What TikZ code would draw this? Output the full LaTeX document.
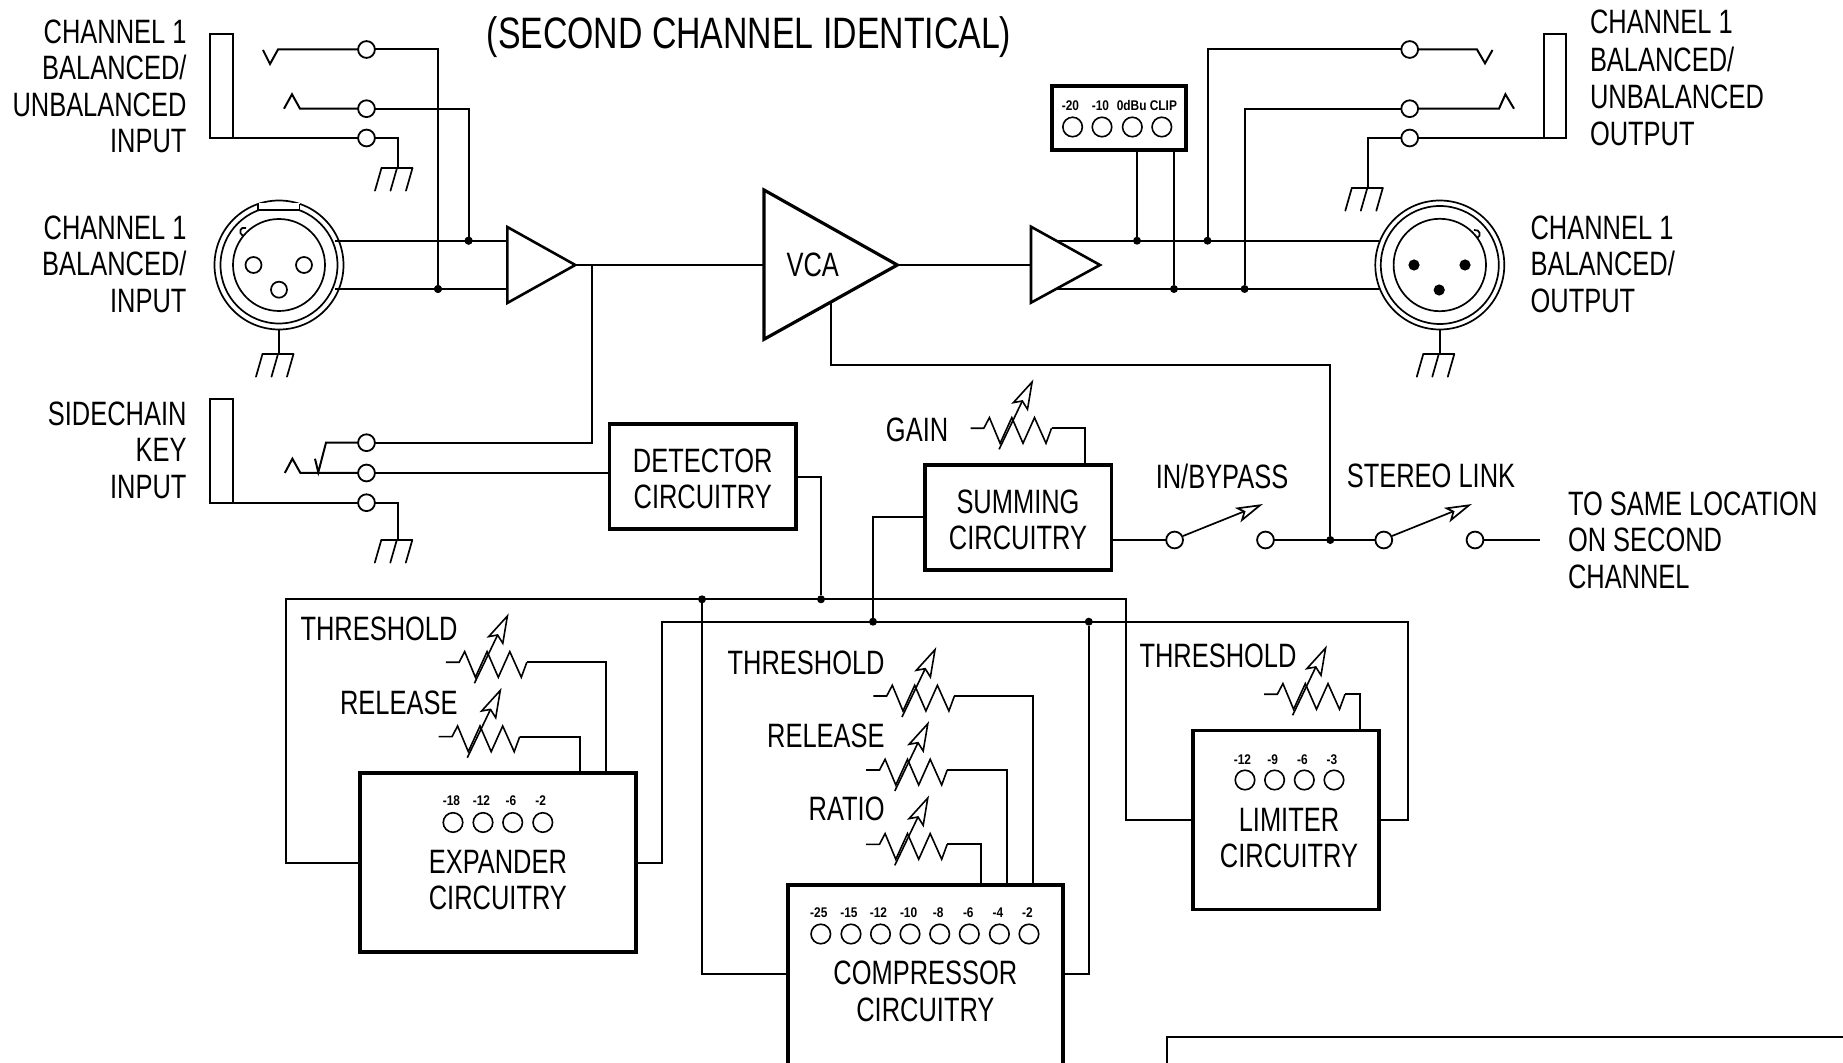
\documentclass[tikz,border=0pt]{standalone}
\usepackage{fontspec}
\setmainfont{Liberation Sans}[FakeStretch=0.753]
\newfontfamily\titlefont{Liberation Sans}[FakeStretch=0.769]
\newfontfamily\ledfont{Liberation Sans}[FakeStretch=0.85]
\tikzset{
  wire/.style={line width=1pt,line join=miter},
  heavy/.style={line width=1.1pt},
  lbl/.style={inner sep=0pt,outer sep=0pt,font=\fontsize{16.9}{18.2}\selectfont},
  lblwide/.style={inner sep=0pt,outer sep=0pt,font=\fontsize{16.9}{18.6}\selectfont},
  ttl/.style={inner sep=0pt,font=\titlefont\fontsize{22}{24}\selectfont},
  ledtxt/.style={inner sep=0pt,font=\ledfont\bfseries\fontsize{7}{8}\selectfont},
  led/.style={circle,draw,line width=0.8pt,minimum size=9.75pt,inner sep=0pt,outer sep=0pt},
  jackc/.style={circle,draw,fill=white,line width=0.9pt,minimum size=8.4pt,inner sep=0pt,outer sep=0pt},
  dot/.style={circle,fill=black,minimum size=4pt,inner sep=0pt,outer sep=0pt},
  cbox/.style={rectangle,draw,line width=1.9pt,inner sep=0pt,outer sep=0pt},
  amp/.style={draw,line width=1.3pt,line join=miter,fill=white},
  gnd/.pic={
    \draw[line width=0.85pt,line cap=round] (-16.5,0) -- (14.5,0);
    \draw[line width=0.85pt,line cap=round] (-16.5,0) -- (-23,22.7) (-1,0) -- (-7.5,22.7) (14.5,0) -- (8,22.7);
  },
  pot/.pic={
    \coordinate (-end) at (81,0);
    \draw[line width=0.8pt,line join=miter] (0,0) -- (13.3,0) -- (18.9,-10.7) -- (29.6,15) -- (41.3,-10.7) -- (52.5,15) -- (64,-10.7) -- (75.5,15) -- (81,0);
    \draw[line width=0.8pt] (28.6,21) -- (51.8,-27.3);
    \draw[line width=0.8pt,line join=miter] (61.6,-46.3) -- (42.9,-25.7) -- (51.8,-27.3) -- (57,-19) -- cycle;
  },
  swarm/.pic={
    \draw[line width=0.85pt] (0,0) -- (61,-24.5);
    \draw[line width=0.85pt,line join=miter] (77,-30.7) -- (54.7,-27.7) -- (61.5,-24.3) -- (59,-16) -- cycle;
  },
}
\begin{document}
\begin{tikzpicture}[x=0.5pt,y=-0.5pt]
\useasboundingbox (0,0) rectangle (1843,1063);
\fill[white] (0,0) rectangle (1843,1063);
\clip (0,0) rectangle (1843,1063);

% ---------- title
\node[ttl] (title) at (749,37) {(SECOND CHANNEL IDENTICAL)};

% ---------- left labels
\node[lbl,anchor=east,align=right] (lblA) at (186.5,86.5) {CHANNEL 1\\BALANCED/\\UNBALANCED\\INPUT};
\node[lbl,anchor=east,align=right] (lblB) at (186.5,264) {CHANNEL 1\\BALANCED/\\INPUT};
\node[lbl,anchor=east,align=right] (lblC) at (186.5,450) {SIDECHAIN\\KEY\\INPUT};
\node[lblwide,anchor=west,align=left] (lblD) at (1590,78) {CHANNEL 1\\BALANCED/\\UNBALANCED\\OUTPUT};
\node[lbl,anchor=west,align=left] (lblE) at (1530.6,264) {CHANNEL 1\\BALANCED/\\OUTPUT};
\node[lbl,anchor=west,align=left] (lblF) at (1568,540) {TO SAME LOCATION\\ON SECOND\\CHANNEL};

% ---------- coordinates
\coordinate (xin1) at (335,240.7);
\coordinate (xin2) at (335,289);
\coordinate (ain1) at (507.3,240.7);
\coordinate (ain2) at (507.3,289);
\coordinate (aout) at (575.3,265);
\coordinate (vcaIn) at (764,265);
\coordinate (vcaOut) at (897.3,265);
\coordinate (bIn) at (1031,265);
\coordinate (bo1) at (1056.5,240.7);
\coordinate (bo2) at (1056.5,289);
\coordinate (xo1) at (1378.5,240.7);
\coordinate (xo2) at (1378.5,289);
\coordinate (vcaCtl) at (831,302.7);

% ---------- input jack
\draw[wire,line join=miter] (233,138) -- (210.4,138) -- (210.4,34.3) -- (233,34.3) -- cycle;
\node[jackc] (jt) at (366.5,49.5) {};
\node[jackc] (jr) at (366.5,108.7) {};
\node[jackc] (js) at (366.5,138) {};
\node[dot] (dTin) at (438,289) {};
\node[dot] (dRin) at (468.6,240.7) {};
\coordinate (vt) at (278,49.5);
\coordinate (vr) at (300,108.7);
\coordinate (vs) at (233,138);
\coordinate (gA) at (398,168);
\draw[wire] (263,50) -- (270,64) -- (vt) -- (jt);
\draw[wire] (284,108.7) -- (292,94.3) -- (vr) -- (jr);
\draw[wire] (vs) -- (js);
\draw[wire] (jt) -| (dTin);
\draw[wire] (jr) -| (dRin);
\draw[wire] (js) -| (gA);
\pic at (gA) {gnd};

% ---------- input XLR
\node[circle,draw,line width=0.85pt,minimum size=64.5pt,inner sep=0pt,outer sep=0pt] (xlrA) at (279,265) {};
\node[circle,draw,line width=0.85pt,minimum size=58.5pt,inner sep=0pt,outer sep=0pt] (xlrAb) at (279,265) {};
\node[circle,draw,line width=0.85pt,minimum size=46pt,inner sep=0pt,outer sep=0pt] (xlrAc) at (279,265) {};
\fill[white] (258.5,203.5) rectangle (299.5,210);
\draw[line width=0.85pt] (258,204) -- (258,210) -- (299.5,210) -- (299.5,204);
\draw[line width=0.85pt] (246,228) .. controls (240,226) and (238,233) .. (243,236);
\node[circle,draw,line width=0.85pt,minimum size=8pt,inner sep=0pt] (pa1) at (253.5,265) {};
\node[circle,draw,line width=0.85pt,minimum size=8pt,inner sep=0pt] (pa2) at (304,265) {};
\node[circle,draw,line width=0.85pt,minimum size=8pt,inner sep=0pt] (pa3) at (279,289.7) {};
\coordinate (gB) at (279,354);
\draw[wire] (xlrA.south) -- (gB);
\pic at (gB) {gnd};

% ---------- main signal path
\draw[heavy] (xin1) -- (ain1);
\draw[heavy] (xin2) -- (ain2);
\node[dot] (dTin2) at (dTin) {};
\node[dot] (dRin2) at (dRin) {};
\draw[amp] (507.3,227) -- (507.3,303) -- (aout) -- cycle;
\draw[heavy] (aout) -- (vcaIn);
\draw[heavy] (vcaOut) -- (bIn);
\draw[amp,line width=1.6pt] (764,190) -- (764,339.3) -- (vcaOut) -- cycle;
\node[lbl] (vca) at (812.7,265) {VCA};
\draw[amp] (1031,226.7) -- (1031,302.7) -- (1100,265) -- cycle;
\draw[heavy] (bo1) -- (xo1);
\draw[heavy] (bo2) -- (xo2);

% ---------- meter
\node[cbox,minimum width=67.2pt,minimum height=32pt] (meter) at (1118.8,118) {};
\foreach \n/\x/\lx/\t in {1/1072.6/1070.4/-20,2/1102/1100.5/-10,3/1132.3/1131.7/0dBu,4/1161.8/1163.4/CLIP}{
  \node[ledtxt] (mt\n) at (\lx,105.3) {\t};
  \node[led] (ml\n) at (\x,127) {};
}
\node[dot] (dM1) at (1137,240.7) {};
\node[dot] (dM2) at (1174,289) {};
\node[dot] (dO1) at (1207.5,240.7) {};
\node[dot] (dO2) at (1244.6,289) {};
\draw[wire] (dM1) -- (dM1 |- meter.south);
\draw[wire] (dM2) -- (dM2 |- meter.south);

% ---------- output jack
\draw[wire] (1566,138) -- (1544,138) -- (1544,34.3) -- (1566,34.3) -- cycle;
\node[jackc] (ot) at (1409.7,49.5) {};
\node[jackc] (or) at (1409.7,108.7) {};
\node[jackc] (os) at (1409.7,138) {};
\coordinate (ovt) at (1477,49.5);
\coordinate (ovr) at (1499,108.7);
\coordinate (ovs) at (1566,138);
\coordinate (gC) at (1368.3,188);
\draw[wire] (dO1) |- (ot);
\draw[wire] (dO2) |- (or);
\draw[wire] (ot) -- (ovt) -- (1485,63.3) -- (1492.5,50);
\draw[wire] (or) -- (ovr) -- (1505.4,94.3) -- (1514,108.7);
\draw[wire] (os) -- (ovs);
\draw[wire] (os) -| (gC);
\pic at (gC) {gnd};

% ---------- output XLR
\node[circle,draw,line width=0.85pt,minimum size=64.5pt,inner sep=0pt,outer sep=0pt] (xlrB) at (1439.8,265) {};
\node[circle,draw,line width=0.85pt,minimum size=59pt,inner sep=0pt,outer sep=0pt] (xlrBb) at (1439.8,265) {};
\node[circle,draw,line width=0.85pt,minimum size=46.2pt,inner sep=0pt,outer sep=0pt] (xlrBc) at (1439.8,265) {};
\draw[line width=0.85pt] (1474,230) .. controls (1480,229) and (1482,236) .. (1477,238);
\node[dot,minimum size=5.6pt] (pb1) at (1414,265) {};
\node[dot,minimum size=5.6pt] (pb2) at (1465,265) {};
\node[dot,minimum size=5.6pt] (pb3) at (1439.2,290) {};
\coordinate (gD) at (1439.8,354);
\draw[wire] (xlrB.south) -- (gD);
\pic at (gD) {gnd};

% ---------- sidechain jack
\draw[wire] (232.6,502.7) -- (210.3,502.7) -- (210.3,399) -- (232.6,399) -- cycle;
\node[jackc] (st) at (366.5,442.7) {};
\node[jackc] (sr) at (366.5,473) {};
\node[jackc] (ss) at (366.5,502.7) {};
\coordinate (sv) at (326,442.7);
\coordinate (srv) at (300.4,473);
\coordinate (ssv) at (232.6,502.7);
\coordinate (gE) at (397.8,540);
\draw[wire] (284.8,473) -- (292.4,458.7) -- (srv) -- (sr);
\draw[wire] (315,458.7) -- (318.3,472.3) -- (sv) -- (st);
\draw[wire] (ssv) -- (ss);
\draw[wire] (ss) -| (gE);
\pic at (gE) {gnd};
\coordinate (brk) at (591.5,265);
\draw[wire] (st) -| (brk);

% ---------- detector
\node[cbox,minimum width=93.3pt,minimum height=52.35pt] (det) at (702.7,476.65) {};
\node[lbl,align=center] (detT) at (702.7,479) {DETECTOR\\CIRCUITRY};
\draw[heavy] (sr) -- (sr -| det.west);
\node[dot] (dBus1) at (821,599.3) {};
\coordinate (detOut) at (796,476.7);
\draw[wire] (detOut) -| (dBus1);

% ---------- summing
\node[cbox,minimum width=93.25pt,minimum height=52.35pt] (sum) at (1018.25,517.65) {};
\node[lbl,align=center] (sumT) at (1018,520) {SUMMING\\CIRCUITRY};
\node[dot] (dBus2) at (873,621.7) {};
\coordinate (sumIn) at (925,516.7);
\draw[wire] (dBus2) |- (sumIn);
\node[lbl,anchor=east] (gainT) at (948.2,430) {GAIN};
\pic (pg) at (970.5,428.3) {pot};
\coordinate (sumTop) at (1085,465.3);
\draw[wire] (pg-end) -| (sumTop);

% ---------- switches
\node[jackc] (s1) at (1174.6,540) {};
\node[jackc] (s2) at (1265.5,540) {};
\node[jackc] (s3) at (1383.8,540) {};
\node[jackc] (s4) at (1475,540) {};
\node[dot] (dLink) at (1330.3,540) {};
\coordinate (toSame) at (1540,540);
\draw[heavy] (s1 -| sum.east) -- (s1);
\draw[heavy] (s2) -- (s3);
\draw[heavy] (s4) -- (toSame);
\pic at (1183,536) {swarm};
\pic at (1392,536) {swarm};
\draw[wire] (vcaCtl) |- (dLink |- 0,365) -- (dLink);
\node[lbl] (ib) at (1222,476) {IN/BYPASS};
\node[lbl] (sl) at (1431,476) {STEREO LINK};

% ---------- expander
\node[cbox,minimum width=137.8pt,minimum height=89.3pt] (exp) at (497.8,862.5) {};
\node[lbl,align=center] (expT) at (497.9,880) {EXPANDER\\CIRCUITRY};
\foreach \n/\x/\lx/\t in {1/453/451.4/-18,2/483/481.5/-12,3/512.7/511/-6,4/542.8/540.7/-2}{
  \node[ledtxt] (et\n) at (\lx,800.5) {\t};
  \node[led] (el\n) at (\x,822.5) {};
}
\node[lbl,anchor=east] (eTh) at (457.5,629) {THRESHOLD};
\node[lbl,anchor=east] (eRe) at (457.5,703) {RELEASE};
\pic (pe1) at (445.8,662.3) {pot};
\pic (pe2) at (438.7,736.7) {pot};
\coordinate (eTop1) at (605.5,773.7);
\coordinate (eTop2) at (579.5,773.7);
\draw[wire] (pe1-end) -| (eTop1);
\draw[wire] (pe2-end) -| (eTop2);

% ---------- compressor
\node[cbox,minimum width=137.65pt,minimum height=100pt] (cmp) at (925.35,985) {};
\node[lbl,align=center] (cmpT) at (925.4,991.3) {COMPRESSOR\\CIRCUITRY};
\foreach \n/\x/\lx/\t in {1/820.8/818.8/-25,2/851/848.9/-15,3/880.5/878.5/-12,4/910/908.6/-10,5/939.7/938.2/-8,6/969.3/968.3/-6,7/999.4/997.9/-4,8/1029/1027.4/-2}{
  \node[ledtxt] (ct\n) at (\lx,912.5) {\t};
  \node[led] (cl\n) at (\x,934) {};
}
\node[lbl,anchor=east] (cTh) at (884.6,662.7) {THRESHOLD};
\node[lbl,anchor=east] (cRe) at (884.6,735.7) {RELEASE};
\node[lbl,anchor=east] (cRa) at (884.6,809.3) {RATIO};
\pic (pc1) at (873.4,696) {pot};
\pic (pc2) at (866.2,770) {pot};
\pic (pc3) at (866.2,844.3) {pot};
\coordinate (cTop1) at (1033,885);
\coordinate (cTop2) at (1007,885);
\coordinate (cTop3) at (981,885);
\draw[wire] (pc1-end) -| (cTop1);
\draw[wire] (pc2-end) -| (cTop2);
\draw[wire] (pc3-end) -| (cTop3);

% ---------- limiter
\node[cbox,minimum width=93pt,minimum height=89.5pt] (lim) at (1286,820) {};
\node[lbl,align=center] (limT) at (1289,838) {LIMITER\\CIRCUITRY};
\foreach \n/\x/\lx/\t in {1/1245/1242.5/-12,2/1274.6/1272.7/-9,3/1304.3/1302.4/-6,4/1334/1332/-3}{
  \node[ledtxt] (lt\n) at (\lx,759.5) {\t};
  \node[led] (ll\n) at (\x,780) {};
}
\node[lbl,anchor=east] (lTh) at (1296.5,656) {THRESHOLD};
\pic (pl) at (1264,694.3) {pot};
\coordinate (lTop) at (1359.8,731);
\draw[wire] (pl-end) -| (lTop);

% ---------- buses
\coordinate (busL1) at (286,599.3);
\coordinate (busR1) at (1126,599.3);
\coordinate (busL2) at (662,621.7);
\coordinate (busR2) at (1408,621.7);
\coordinate (eL) at (360,862.7);
\coordinate (eR) at (635.6,862.7);
\coordinate (lL) at (1193,820.3);
\coordinate (lR) at (1379,820.3);
\coordinate (cL) at (787.7,974);
\coordinate (cR) at (1063,974);
\node[dot] (dBus3) at (702,599.3) {};
\node[dot] (dBus4) at (1088.8,621.7) {};
\draw[wire] (eL) -| (busL1) -- (busR1) |- (lL);
\draw[wire] (eR) -| (busL2) -- (busR2) |- (lR);
\draw[wire] (dBus3) |- (cL);
\draw[wire] (dBus4) |- (cR);

% ---------- bottom-right frame
\coordinate (frA) at (1167,1037.3);
\draw[wire] (1167,1070) -- (frA) -- (1850,1037.3);
\end{tikzpicture}
\end{document}
